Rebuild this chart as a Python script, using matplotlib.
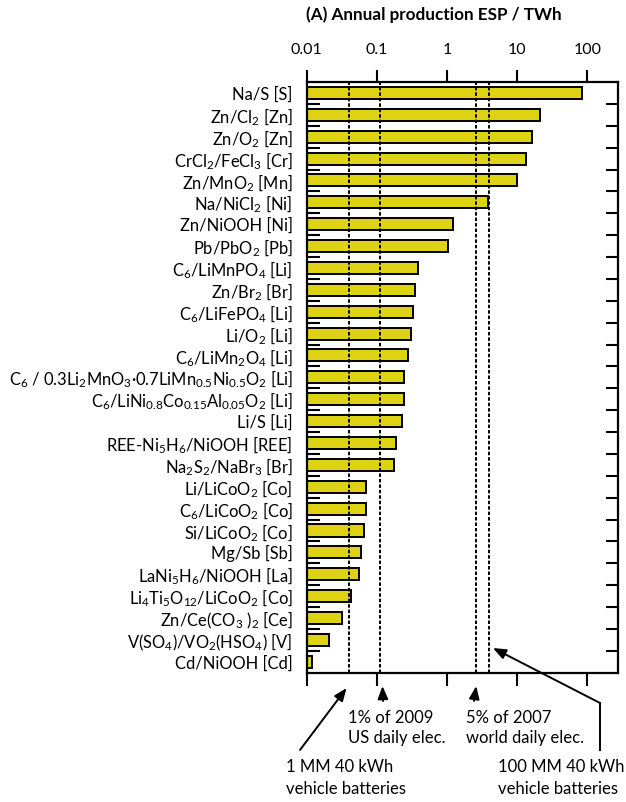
import matplotlib
matplotlib.use("Agg")
import matplotlib.pyplot as plt
from matplotlib.lines import Line2D
import numpy as np

plt.rcParams['font.family'] = ['Lato', 'DejaVu Sans']
plt.rcParams['mathtext.fontset'] = 'custom'
plt.rcParams['mathtext.rm'] = 'Lato'
plt.rcParams['mathtext.it'] = 'Lato:italic'
plt.rcParams['mathtext.bf'] = 'Lato:bold'

# chemistries, top to bottom
labels = [
    r'Na/S [S]',
    r'Zn/Cl$_2$ [Zn]',
    r'Zn/O$_2$ [Zn]',
    r'CrCl$_2$/FeCl$_3$ [Cr]',
    r'Zn/MnO$_2$ [Mn]',
    r'Na/NiCl$_2$ [Ni]',
    r'Zn/NiOOH [Ni]',
    r'Pb/PbO$_2$ [Pb]',
    r'C$_6$/LiMnPO$_4$ [Li]',
    r'Zn/Br$_2$ [Br]',
    r'C$_6$/LiFePO$_4$ [Li]',
    r'Li/O$_2$ [Li]',
    r'C$_6$/LiMn$_2$O$_4$ [Li]',
    r'C$_6$ / 0.3Li$_2$MnO$_3$·0.7LiMn$_{0.5}$Ni$_{0.5}$O$_2$ [Li]',
    r'C$_6$/LiNi$_{0.8}$Co$_{0.15}$Al$_{0.05}$O$_2$ [Li]',
    r'Li/S [Li]',
    r'REE-Ni$_5$H$_6$/NiOOH [REE]',
    r'Na$_2$S$_2$/NaBr$_3$ [Br]',
    r'Li/LiCoO$_2$ [Co]',
    r'C$_6$/LiCoO$_2$ [Co]',
    r'Si/LiCoO$_2$ [Co]',
    r'Mg/Sb [Sb]',
    r'LaNi$_5$H$_6$/NiOOH [La]',
    r'Li$_4$Ti$_5$O$_{12}$/LiCoO$_2$ [Co]',
    r'Zn/Ce(CO$_3$ )$_2$ [Ce]',
    r'V(SO$_4$)/VO$_2$(HSO$_4$) [V]',
    r'Cd/NiOOH [Cd]',
]

# annual production ESP, TWh
esp = [83, 20.8, 16.4, 13.1, 10.0, 3.85, 1.22, 1.02, 0.39, 0.35, 0.33, 0.31,
       0.277, 0.24, 0.24, 0.23, 0.187, 0.175, 0.071, 0.069, 0.065, 0.060,
       0.056, 0.0425, 0.032, 0.021, 0.012]

# reference levels, TWh
refs = [0.04, 0.11, 2.6, 4.0]

x0 = 0.01
xmax = 272

fig = plt.figure(figsize=(6.26, 8.02), dpi=100)
ax = fig.add_axes([306.7 / 626, 1 - 672.7 / 802, (618 - 306.7) / 626, (672.7 - 82) / 802])

y = np.arange(len(labels))
vals = np.array(esp)
ax.barh(y, vals - x0, left=x0, height=0.55, color='#ddd214',
        edgecolor='black', linewidth=1.4, zorder=2)

for r in refs:
    ax.axvline(r, color='black', lw=1.4, ls=(0, (1.8, 1.0)), zorder=3)

ax.set_xscale('log')
ax.set_xlim(x0, xmax)
ax.set_ylim(len(labels) - 0.5, -0.5)

ax.xaxis.set_ticks_position('both')
ax.set_xticks([0.01, 0.1, 1, 10, 100])
ax.set_xticklabels(['0.01', '0.1', '1', '10', '100'])
ax.xaxis.set_minor_locator(matplotlib.ticker.NullLocator())
ax.tick_params(axis='x', which='major', direction='out', length=9, width=1.5,
               top=True, bottom=True, labeltop=True, labelbottom=False,
               labelsize=11.5, pad=9)

ax.set_yticks(y)
ax.set_yticklabels(labels)
ax.set_yticks(np.arange(len(labels) - 1) + 0.5, minor=True)
ax.tick_params(axis='y', which='major', length=0, labelsize=11.9, pad=10)
ax.tick_params(axis='y', which='minor', direction='in', length=9, width=1.5,
               left=True, right=True)

for s in ax.spines.values():
    s.set_linewidth(1.6)

fig.text(434 / 626, 1 - 15 / 802, '(A) Annual production ESP / TWh',
         ha='center', va='center', fontsize=12.3, fontweight='bold')

# annotations below the axis
tr = ax.get_xaxis_transform()
ff = 'figure fraction'
aprops = dict(arrowstyle='-|>,head_length=0.55,head_width=0.22', color='black',
              lw=1.4, shrinkA=0, shrinkB=0, mutation_scale=14)
tsize = 12


def fy(py):
    return 1 - py / 802


def ay(py):
    return (672.7 - py) / (672.7 - 82)


ax.annotate('', xy=(0.037, ay(688)), xycoords=tr,
            xytext=(300 / 626, fy(750)), textcoords=ff,
            arrowprops=aprops, annotation_clip=False)
fig.text(286 / 626, fy(778), '1 MM 40 kWh\nvehicle batteries',
         ha='left', va='center', fontsize=tsize, linespacing=1.4)

ax.annotate('', xy=(0.12, ay(686)), xycoords=tr,
            xytext=(383 / 626, fy(701)), textcoords=ff,
            arrowprops=aprops, annotation_clip=False)
fig.text(348 / 626, fy(728), '1% of 2009\nUS daily elec.',
         ha='left', va='center', fontsize=tsize, linespacing=1.25)

ax.annotate('', xy=(2.6, ay(686)), xycoords=tr,
            xytext=(474 / 626, fy(701)), textcoords=ff,
            arrowprops=aprops, annotation_clip=False)
fig.text(466 / 626, fy(728), '5% of 2007\nworld daily elec.',
         ha='left', va='center', fontsize=tsize, linespacing=1.25)

fig.add_artist(Line2D([600 / 626, 600 / 626], [fy(750), fy(703)],
                      transform=fig.transFigure, color='black', lw=1.4))
ax.annotate('', xy=(4.5, ay(648)), xycoords=tr,
            xytext=(600 / 626, fy(703)), textcoords=ff,
            arrowprops=aprops, annotation_clip=False)
fig.text(498 / 626, fy(778), '100 MM 40 kWh\nvehicle batteries',
         ha='left', va='center', fontsize=tsize, linespacing=1.4)

fig.savefig('out.png', dpi=100)
